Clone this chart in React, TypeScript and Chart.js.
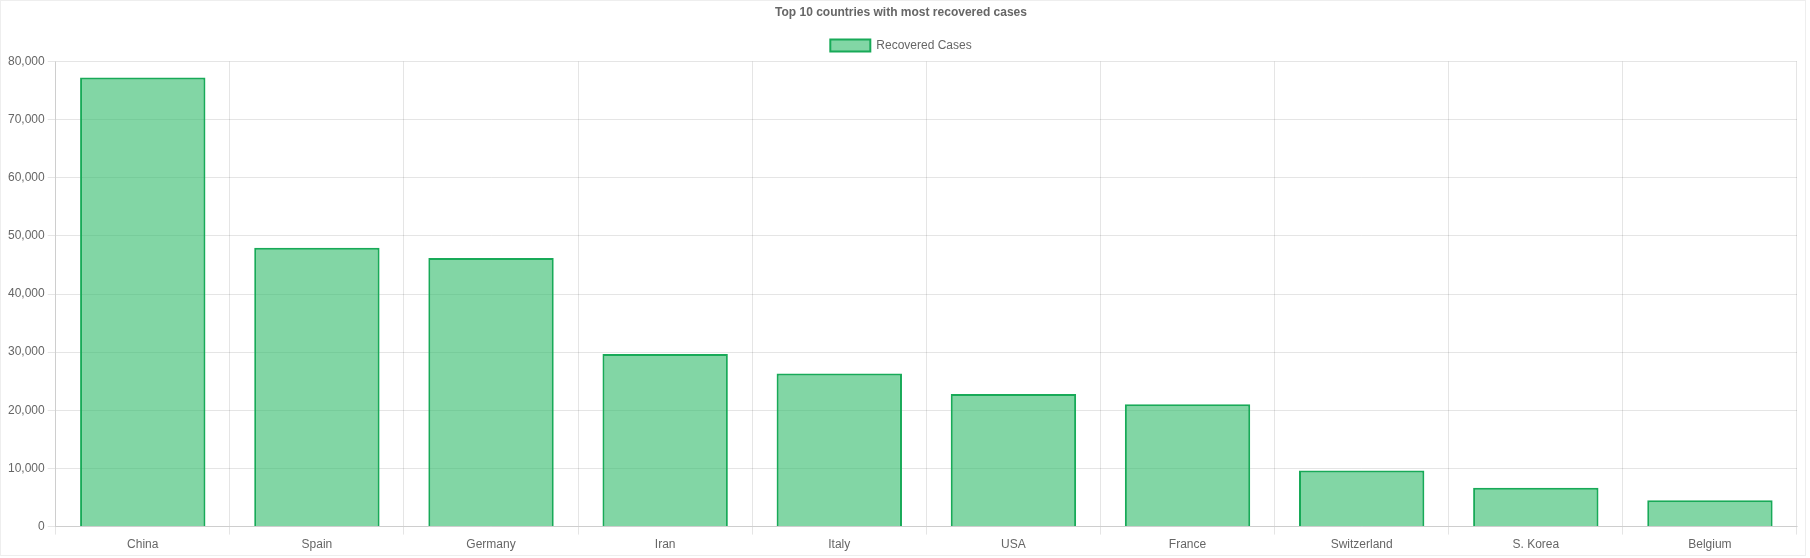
import { useEffect, useRef } from 'react'
import { Chart, registerables } from 'chart.js'

Chart.register(...registerables)

const countries = ['China', 'Spain', 'Germany', 'Iran', 'Italy', 'USA', 'France', 'Switzerland', 'S. Korea', 'Belgium']
const recovered = [77250, 47960, 46190, 29680, 26340, 22800, 21030, 9630, 6680, 4520]

const App = () => {
  const canvasRef = useRef<HTMLCanvasElement>(null)

  useEffect(() => {
    document.body.style.margin = '0'
    if (!canvasRef.current) return
    Chart.defaults.font.family = '"Liberation Sans", Arial, sans-serif'
    Chart.defaults.color = '#666'
    const chart = new Chart(canvasRef.current, {
      type: 'bar',
      data: {
        labels: countries,
        datasets: [{
          label: 'Recovered Cases',
          data: recovered,
          backgroundColor: 'rgba(40,184,100,0.58)',
          borderColor: 'rgb(24,170,88)',
          borderWidth: 2,
        }]
      },
      options: {
        animation: false,
        responsive: true,
        maintainAspectRatio: false,
        layout: { padding: { left: 4, right: 8 } },
        plugins: {
          title: { display: true, text: 'Top 10 countries with most recovered cases', font: { size: 12, weight: 'bold' }, padding: { top: 4, bottom: 10 } },
          legend: { labels: { boxWidth: 40, font: { size: 12 } } },
          tooltip: { enabled: false }
        },
        scales: {
          x: { grid: { color: 'rgba(0,0,0,0.1)', offset: true }, ticks: { font: { size: 12 } } },
          y: { min: 0, max: 80000, ticks: { stepSize: 10000, font: { size: 12 } }, grid: { color: 'rgba(0,0,0,0.1)' } }
        }
      }
    })
    return () => chart.destroy()
  }, [])

  return (
    <div style={{ width: 1806, height: 556, border: '1px solid #eee', boxSizing: 'border-box' }}>
      <canvas ref={canvasRef} />
    </div>
  )
}

export default App
